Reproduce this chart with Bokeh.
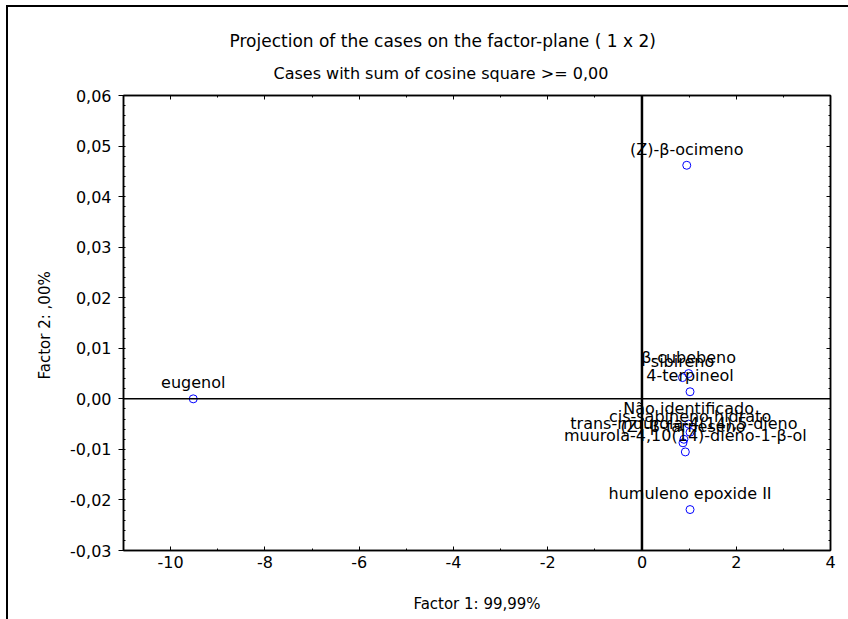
from bokeh.plotting import figure
from bokeh.models import (Span, LinearAxis, Title, ColumnDataSource,
                          SingleIntervalTicker, CustomJSTickFormatter)
from bokeh.embed import file_html
from bokeh.resources import INLINE
from bokeh.core.properties import value

# ---- data ----
names = ["eugenol", "(Z)-\u03b2-ocimeno", "\u03b2-cubebeno", "sibireno", "4-terpineol",
         "N\u00e3o identificado", "cis-sabineno hidrato", "trans-muurola-4(14),5-dieno",
         "(Z)-\u03b2-farneseno", "muurola-4,10(14)-dieno-1-\u03b2-ol", "humuleno epoxide II"]
factor1 = [-9.52, 0.95, 0.99, 0.86, 1.02, 0.99, 1.02, 0.89, 0.87, 0.92, 1.02]
factor2 = [0.0, 0.0462, 0.0050, 0.0042, 0.0014, -0.0050, -0.0066, -0.0080, -0.0087, -0.0105, -0.0219]

x_limits = (-11, 4)
y_limits = (-0.03, 0.06)
title_text = "Projection of the cases on the factor-plane (  1 x   2)"
subtitle_text = "Cases with sum of cosine square >=  0,00"
x_title = "Factor 1: 99,99%"
y_title = "Factor 2:  ,00%"

FONT = "DejaVu Sans"

src = ColumnDataSource(dict(x=factor1, y=factor2, name=names))

p = figure(width=848, height=619, output_backend="svg", toolbar_location=None,
           x_range=x_limits, y_range=y_limits,
           min_border_left=123, min_border_right=18, min_border_top=95, min_border_bottom=69,
           background_fill_color="white", border_fill_color=None)
# outer window frame (left and top edges visible, the rest runs off the picture)
p.styles = {"background": "linear-gradient(#000,#000) 6px 5px / 2px 100% no-repeat, "
                          "linear-gradient(#000,#000) 6px 5px / 100% 2px no-repeat, #ffffff"}
p.grid.visible = False
p.outline_line_color = "black"
p.outline_line_width = 1.5

xticker = SingleIntervalTicker(interval=2, num_minor_ticks=2)
yticker = SingleIntervalTicker(interval=0.01, num_minor_ticks=5)
xfmt = CustomJSTickFormatter(code="return tick.toFixed(0);")
yfmt = CustomJSTickFormatter(code="return tick.toFixed(2).replace('.', ',');")

# bottom axis
xa = p.xaxis[0]
xa.ticker = xticker
xa.formatter = xfmt
xa.axis_label = x_title
xa.axis_label_text_font = FONT
xa.axis_label_text_font_size = "15px"
xa.axis_label_text_font_style = "normal"
xa.axis_label_text_color = "black"
xa.axis_label_standoff = 24
xa.major_label_text_font = FONT
xa.major_label_text_font_size = "16px"
xa.major_label_text_color = "black"
xa.major_label_standoff = 5
xa.major_tick_in = 4
xa.major_tick_out = 0
xa.minor_tick_in = 2
xa.minor_tick_out = 0
xa.axis_line_width = 1.5

# left axis
ya = p.yaxis[0]
ya.ticker = yticker
ya.formatter = yfmt
ya.axis_label = y_title
ya.axis_label_text_font = FONT
ya.axis_label_text_font_size = "15px"
ya.axis_label_text_font_style = "normal"
ya.axis_label_text_color = "black"
ya.axis_label_standoff = 13
ya.major_label_text_font = FONT
ya.major_label_text_font_size = "16px"
ya.major_label_text_color = "black"
ya.major_label_standoff = 7
ya.major_tick_in = 0
ya.major_tick_out = 5
ya.minor_tick_in = 2
ya.minor_tick_out = 0
ya.axis_line_width = 1.5

# right and top axes (ticks only)
ra = LinearAxis(ticker=yticker, formatter=yfmt, major_label_text_color=None,
                major_tick_in=4, major_tick_out=0, minor_tick_in=2, minor_tick_out=0,
                axis_line_width=1.5)
ta = LinearAxis(ticker=xticker, formatter=xfmt, major_label_text_color=None,
                major_tick_in=4, major_tick_out=0, minor_tick_in=2, minor_tick_out=0,
                axis_line_width=1.5)
p.add_layout(ra, "right")
p.add_layout(ta, "above")

# titles
p.add_layout(Title(text=subtitle_text, align="left", text_font=FONT, text_font_size="16px",
                   text_font_style="normal", text_color="black", offset=150, standoff=26), "above")
p.add_layout(Title(text=title_text, align="left", text_font=FONT, text_font_size="17px",
                   text_font_style="normal", text_color="black", offset=106, standoff=-4), "above")

# zero lines
p.add_layout(Span(location=0, dimension="height", line_color="black", line_width=2.5))
p.add_layout(Span(location=0, dimension="width", line_color="black", line_width=1.5))

p.scatter("x", "y", source=src, marker="circle", size=8, fill_color=None,
          line_color="#0000ff", line_width=1)
p.text("x", "y", text="name", source=src, text_align="center", text_baseline="alphabetic",
       y_offset=-16, text_font=value(FONT), text_font_size="16px", text_color="black")

open("out.html", "w").write(file_html(p, INLINE))
